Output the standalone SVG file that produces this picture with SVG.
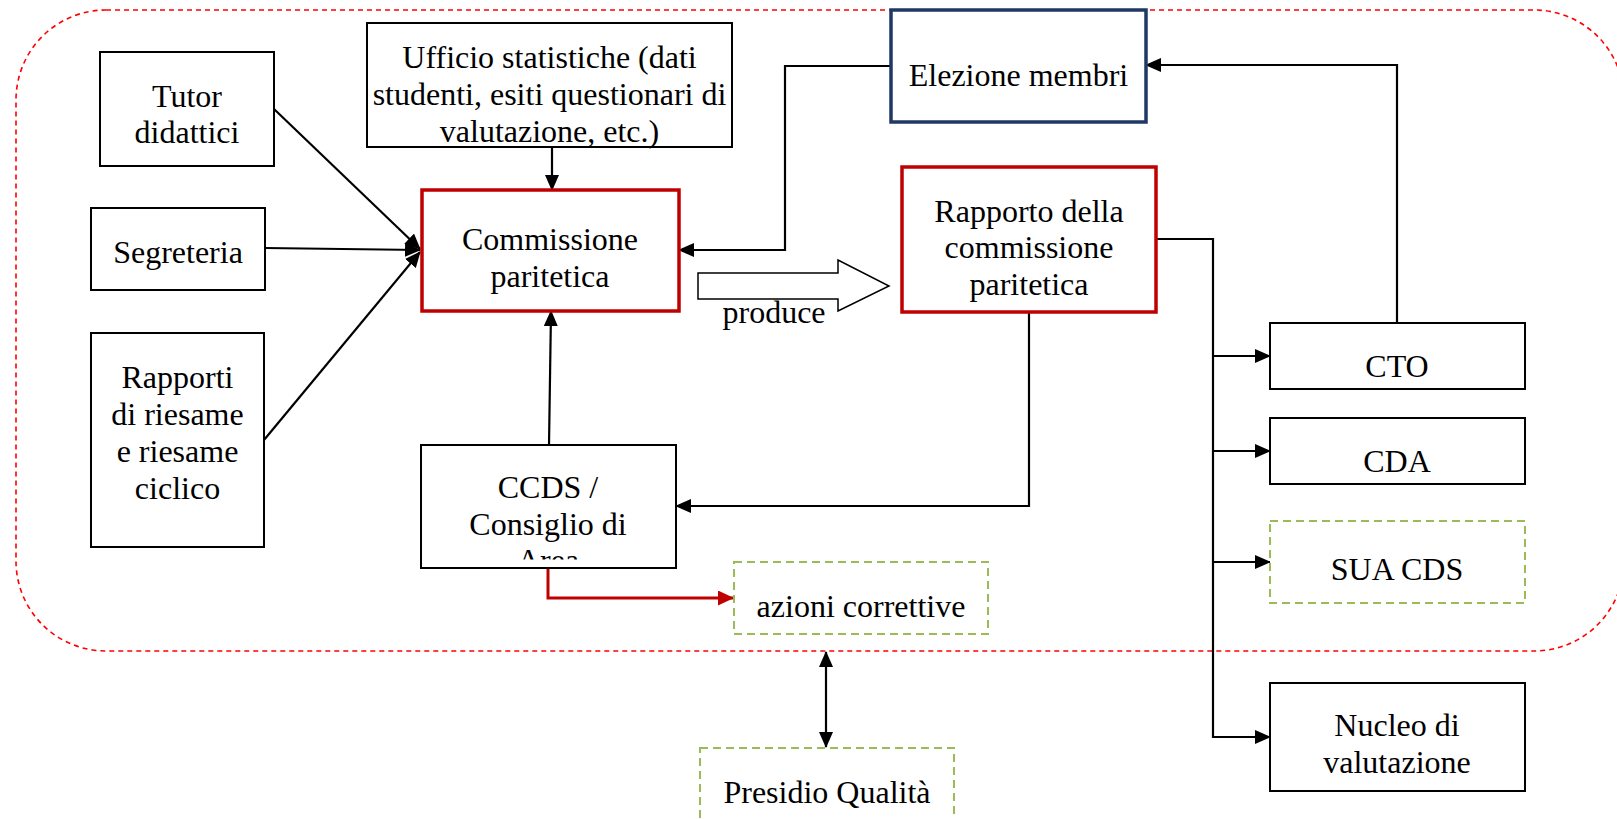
<svg xmlns="http://www.w3.org/2000/svg" width="1617" height="819" viewBox="0 0 1617 819">
<style>
text{font-family:"Liberation Serif","Times New Roman",serif;font-size:32px;fill:#000;text-anchor:middle}
.box{fill:#fff;stroke:#000;stroke-width:2}
.red{fill:#fff;stroke:#C00000;stroke-width:3.5}
.navy{fill:#fff;stroke:#1F3864;stroke-width:3.5}
.green{fill:#fff;stroke:#9BBB59;stroke-width:2;stroke-dasharray:8 5}
.con{fill:none;stroke:#000;stroke-width:2.2}
.conr{fill:none;stroke:#C00000;stroke-width:3}
</style>
<defs>
<marker id="arr" markerUnits="userSpaceOnUse" markerWidth="16" markerHeight="14" refX="15" refY="7" orient="auto-start-reverse" viewBox="0 0 16 14"><path d="M0,0 L16,7 L0,14 z" fill="#000"/></marker>
<marker id="arrR" markerUnits="userSpaceOnUse" markerWidth="16" markerHeight="15" refX="15" refY="7.5" orient="auto" viewBox="0 0 16 15"><path d="M0,0 L16,7.5 L0,15 z" fill="#C00000"/></marker>
<clipPath id="ccdsClip"><rect x="421" y="445" width="255" height="114.5"/></clipPath>
</defs>
<rect id="boundary" x="16" y="10" width="1608" height="641" rx="90" ry="90" fill="none" stroke="#FF0000" stroke-width="1.6" stroke-dasharray="5 4"/>
<g id="connectors">
<path class="con" d="M552,147 L552,190" marker-end="url(#arr)"/>
<path class="con" d="M274,109 L420,249" marker-end="url(#arr)"/>
<path class="con" d="M265,248 L420,250" marker-end="url(#arr)"/>
<path class="con" d="M264,440 L420,252" marker-end="url(#arr)"/>
<path class="con" d="M549,445 L551,311" marker-end="url(#arr)"/>
<path class="con" d="M891,66 L785,66 L785,250 L679,250" marker-end="url(#arr)"/>
<path class="con" d="M1397,323 L1397,65 L1146,65" marker-end="url(#arr)"/>
<path class="con" d="M1156,239 L1213,239 L1213,737 L1270,737" stroke-width="2.8" marker-end="url(#arr)"/>
<path class="con" d="M1213,356 L1270,356" stroke-width="2.5" marker-end="url(#arr)"/>
<path class="con" d="M1213,451 L1270,451" stroke-width="2.5" marker-end="url(#arr)"/>
<path class="con" d="M1213,562 L1270,562" stroke-width="2.5" marker-end="url(#arr)"/>
<path class="con" d="M1029,312 L1029,506 L676,506" marker-end="url(#arr)"/>
<path class="conr" d="M548,568 L548,598 L733,598" marker-end="url(#arrR)"/>
<path class="con" d="M826,652 L826,747" marker-start="url(#arr)" marker-end="url(#arr)"/>
<polygon points="698,273 838,273 838,260 889,286 838,311 838,299 698,299" fill="#fff" stroke="#000" stroke-width="1.5"/>
<text x="774" y="323">produce</text>
</g>
<g id="tutor"><rect class="box" x="100" y="52" width="174" height="114"/><text x="187" y="107">Tutor</text><text x="187" y="143">didattici</text></g>
<g id="segreteria"><rect class="box" x="91" y="208" width="174" height="82"/><text x="178" y="263">Segreteria</text></g>
<g id="ufficio"><rect class="box" x="367" y="23" width="365" height="124"/><text x="549.5" y="68">Ufficio statistiche (dati</text><text x="549.5" y="105">studenti, esiti questionari di</text><text x="549.5" y="142">valutazione, etc.)</text></g>
<g id="commissione"><rect class="red" x="422" y="190" width="257" height="121"/><text x="550" y="250">Commissione</text><text x="550" y="287">paritetica</text></g>
<g id="elezione"><rect class="navy" x="891" y="10" width="255" height="112"/><text x="1018.5" y="86">Elezione membri</text></g>
<g id="rapporto"><rect class="red" x="902" y="167" width="254" height="145"/><text x="1029" y="222">Rapporto della</text><text x="1029" y="258">commissione</text><text x="1029" y="295">paritetica</text></g>
<g id="rapporti"><rect class="box" x="91" y="333" width="173" height="214"/><text x="177.5" y="388">Rapporti</text><text x="177.5" y="425">di riesame</text><text x="177.5" y="462">e riesame</text><text x="177.5" y="499">ciclico</text></g>
<g id="ccds"><rect class="box" x="421" y="445" width="255" height="123"/><g clip-path="url(#ccdsClip)"><text x="548" y="498">CCDS /</text><text x="548" y="535">Consiglio di</text><text x="548" y="571">Area</text></g></g>
<g id="cto"><rect class="box" x="1270" y="323" width="255" height="66"/><text x="1397" y="377">CTO</text></g>
<g id="cda"><rect class="box" x="1270" y="418" width="255" height="66"/><text x="1397" y="472">CDA</text></g>
<g id="sua"><rect class="green" x="1270" y="521" width="255" height="82"/><text x="1397" y="580">SUA CDS</text></g>
<g id="nucleo"><rect class="box" x="1270" y="683" width="255" height="108"/><text x="1397" y="736">Nucleo di</text><text x="1397" y="773">valutazione</text></g>
<g id="azioni"><rect class="green" x="734" y="562" width="254" height="72"/><text x="861" y="617">azioni correttive</text></g>
<g id="presidio"><rect class="green" x="700" y="748" width="254" height="80"/><text x="827" y="803">Presidio Qualità</text></g>
</svg>
